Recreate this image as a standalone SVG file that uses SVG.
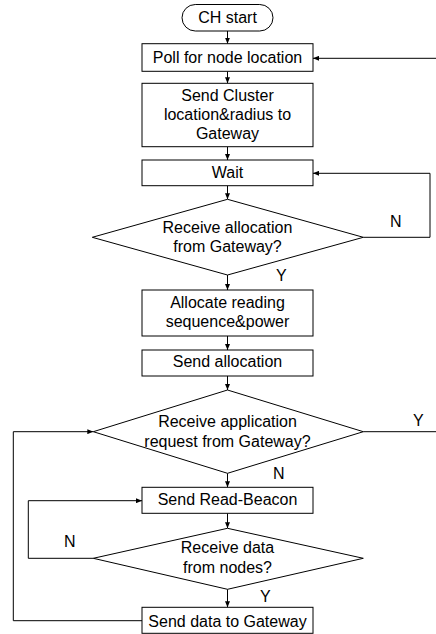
<svg xmlns="http://www.w3.org/2000/svg" width="436" height="634" viewBox="0 0 436 634">
<style>
.b{fill:#fff;stroke:#000;stroke-width:1}
.t{font-family:"Liberation Sans",Arial,sans-serif;font-size:16px;fill:#000;text-anchor:middle}
.l{font-family:"Liberation Sans",Arial,sans-serif;font-size:16px;fill:#000}
.c{fill:none;stroke:#000;stroke-width:1}
</style>
<defs>
<marker id="a" viewBox="0 0 6 5" refX="6" refY="2.5" markerWidth="6" markerHeight="5" markerUnits="userSpaceOnUse" orient="auto">
<path d="M0,0 L6,2.5 L0,5 z" fill="#000"/>
</marker>
</defs>
<rect width="436" height="634" fill="#fff"/>
<g id="connectors">
<path class="c" d="M227.5,31 V43.7" marker-end="url(#a)"/>
<path class="c" d="M227.5,71.3 V83.3" marker-end="url(#a)"/>
<path class="c" d="M227.5,146.7 V160" marker-end="url(#a)"/>
<path class="c" d="M227.5,185.7 V199.3" marker-end="url(#a)"/>
<path class="c" d="M227.5,275 V290" marker-end="url(#a)"/>
<path class="c" d="M227.5,336 V350" marker-end="url(#a)"/>
<path class="c" d="M227.5,376 V390" marker-end="url(#a)"/>
<path class="c" d="M227.5,473.3 V487.3" marker-end="url(#a)"/>
<path class="c" d="M227.5,513.3 V528.3" marker-end="url(#a)"/>
<path class="c" d="M227.5,589.3 V607.3" marker-end="url(#a)"/>
<path class="c" d="M363.3,237.3 H430 V173.3 H313" marker-end="url(#a)"/>
<path class="c" d="M436,58.3 H313" marker-end="url(#a)"/>
<path class="c" d="M363.3,431.7 H436"/>
<path class="c" d="M93.3,558.3 H28.3 V500.7 H142" marker-end="url(#a)"/>
<path class="c" d="M142,620.7 H13.3 V431.7 H93.3" marker-end="url(#a)"/>
<text class="l" x="390" y="227">N</text>
<text class="l" x="276" y="281">Y</text>
<text class="l" x="413" y="426">Y</text>
<text class="l" x="273" y="479">N</text>
<text class="l" x="64" y="546.5">N</text>
<text class="l" x="260" y="601.5">Y</text>
</g>
<g id="start">
<rect class="b" x="182" y="4.5" width="91" height="26.5" rx="13.25"/>
<text class="t" x="227.5" y="23">CH start</text>
</g>
<g id="poll">
<rect class="b" x="142" y="43.7" width="171" height="27.6"/>
<text class="t" x="227.5" y="62.7">Poll for node location</text>
</g>
<g id="sendCluster">
<rect class="b" x="142" y="83.3" width="171" height="63.4"/>
<text class="t" x="227.5" y="100.7">Send Cluster</text>
<text class="t" x="227.5" y="119.5">location&amp;radius to</text>
<text class="t" x="227.5" y="139">Gateway</text>
</g>
<g id="wait">
<rect class="b" x="142" y="160" width="171" height="25.7"/>
<text class="t" x="227.5" y="178.3">Wait</text>
</g>
<g id="receiveAllocation">
<polygon class="b" points="227.5,199.3 363.3,237.3 227.5,275 92.3,237.3"/>
<text class="t" x="227.5" y="232.7">Receive allocation</text>
<text class="t" x="227.5" y="251.7">from Gateway?</text>
</g>
<g id="allocate">
<rect class="b" x="142" y="290" width="171" height="46"/>
<text class="t" x="227.5" y="308.3">Allocate reading</text>
<text class="t" x="227.5" y="326.7">sequence&amp;power</text>
</g>
<g id="sendAllocation">
<rect class="b" x="142" y="350" width="171" height="26"/>
<text class="t" x="227.5" y="367.3">Send allocation</text>
</g>
<g id="receiveRequest">
<polygon class="b" points="227.5,390 363.3,431.7 227.5,473.3 93.3,431.7"/>
<text class="t" x="227.5" y="426.7">Receive application</text>
<text class="t" x="227.5" y="446.7">request from Gateway?</text>
</g>
<g id="readBeacon">
<rect class="b" x="142" y="487.3" width="171" height="26"/>
<text class="t" x="227.5" y="505">Send Read-Beacon</text>
</g>
<g id="receiveData">
<polygon class="b" points="227.5,528.3 363.3,558.3 227.5,589.3 93.3,558.3"/>
<text class="t" x="227.5" y="553.3">Receive data</text>
<text class="t" x="227.5" y="572.7">from nodes?</text>
</g>
<g id="sendData">
<rect class="b" x="142" y="607.3" width="171" height="26"/>
<text class="t" x="227.5" y="626.7">Send data to Gateway</text>
</g>
</svg>
